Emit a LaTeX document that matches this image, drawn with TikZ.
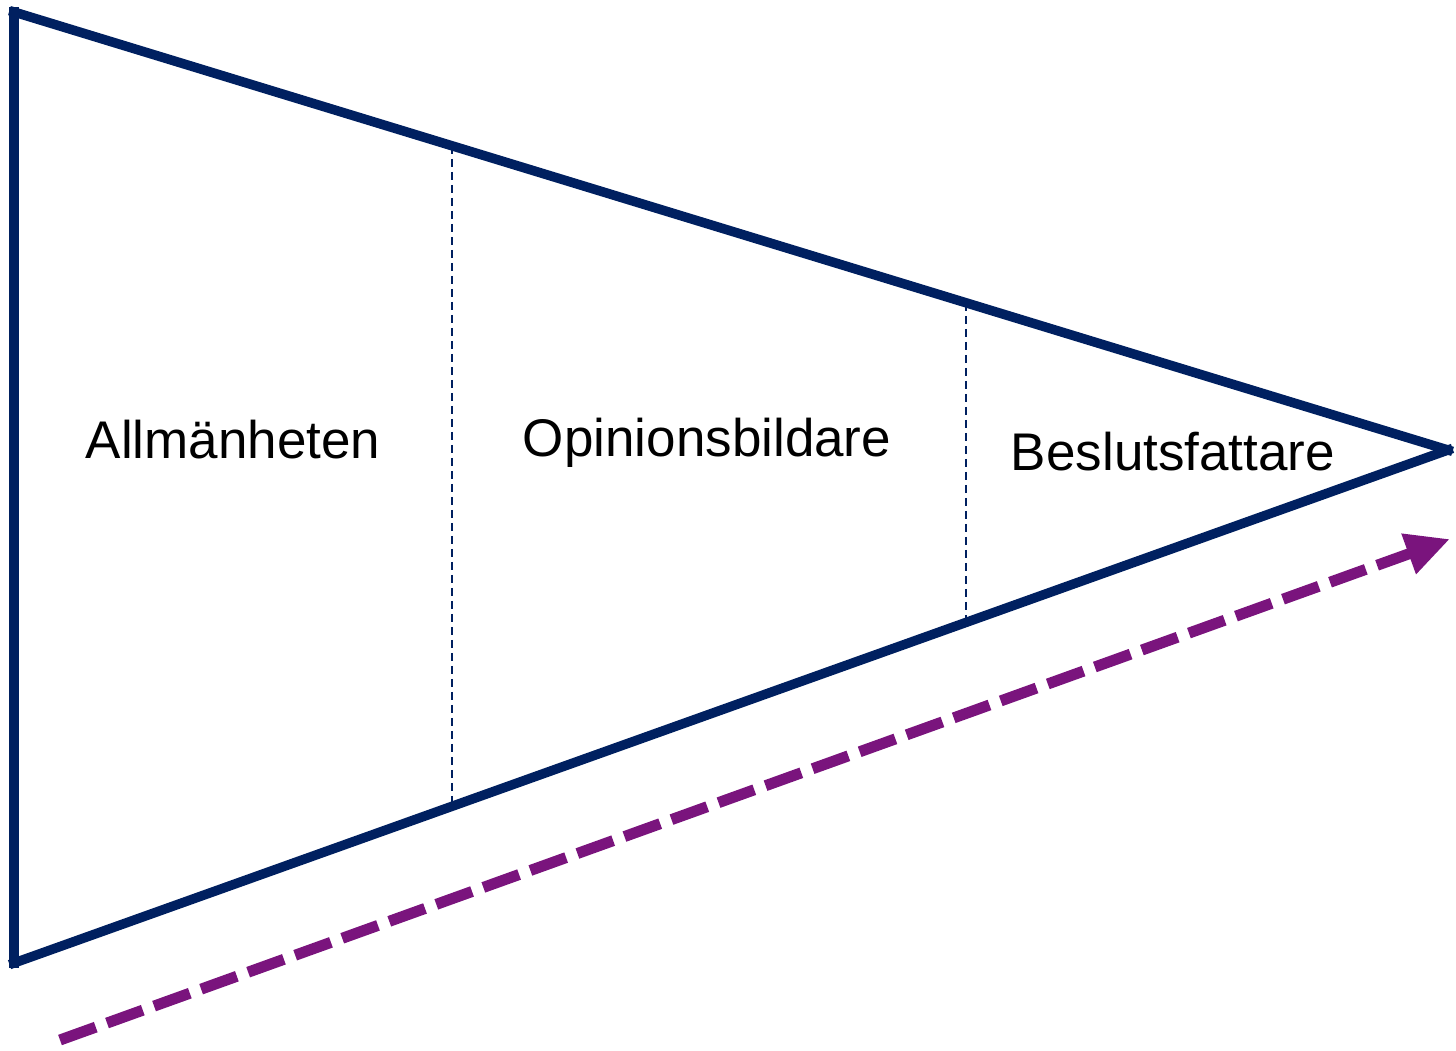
\documentclass[tikz,border=0pt]{standalone}
\usepackage{fontspec}
\setmainfont{Liberation Sans}
\usetikzlibrary{arrows.meta,calc}
\definecolor{marin}{RGB}{0,32,96}
\definecolor{lila}{RGB}{122,20,125}
\begin{document}
\begin{tikzpicture}[x=1pt,y=-1pt,
    kant/.style={draw=marin, line width=9.5pt, line cap=rect},
    grans/.style={draw=marin, line width=1.8pt, dash pattern=on 8pt off 5pt},
    etikett/.style={font=\fontsize{53}{60}\selectfont, inner sep=0pt}]
                \useasboundingbox (0,0) rectangle (1456,1051);
                % 三角形的顶点
                \coordinate (TL) at (14,12);
                \coordinate (BL) at (14,963);
                \coordinate (spets) at (1448,450);
                % 三角形
                \draw[kant] (BL) -- (TL);
                \draw[kant] (TL) -- (spets);
                \draw[kant] (BL) -- (spets);
                % 分隔虚线
                \draw[grans] ($(TL)!0.3054!(spets)$) -- ($(BL)!0.3054!(spets)$);
                \draw[grans] ($(TL)!0.6639!(spets)$) -- ($(BL)!0.6639!(spets)$);
                % 标签
                \node[etikett] (allm) at (233,440) {Allmänheten};
                \node[etikett] (opin) at (707,443) {Opinionsbildare};
                \node[etikett] (besl) at (1173,452) {Beslutsfattare};
                % 虚线箭头
                \coordinate (start) at (60,1040);
                \coordinate (mal) at (1450,539);
                \draw[lila, line width=11pt, dash pattern=on 38pt off 12pt,
                      -{Triangle[length=44pt,width=40pt]}] (start) -- (mal);
            \end{tikzpicture}
\end{document}
